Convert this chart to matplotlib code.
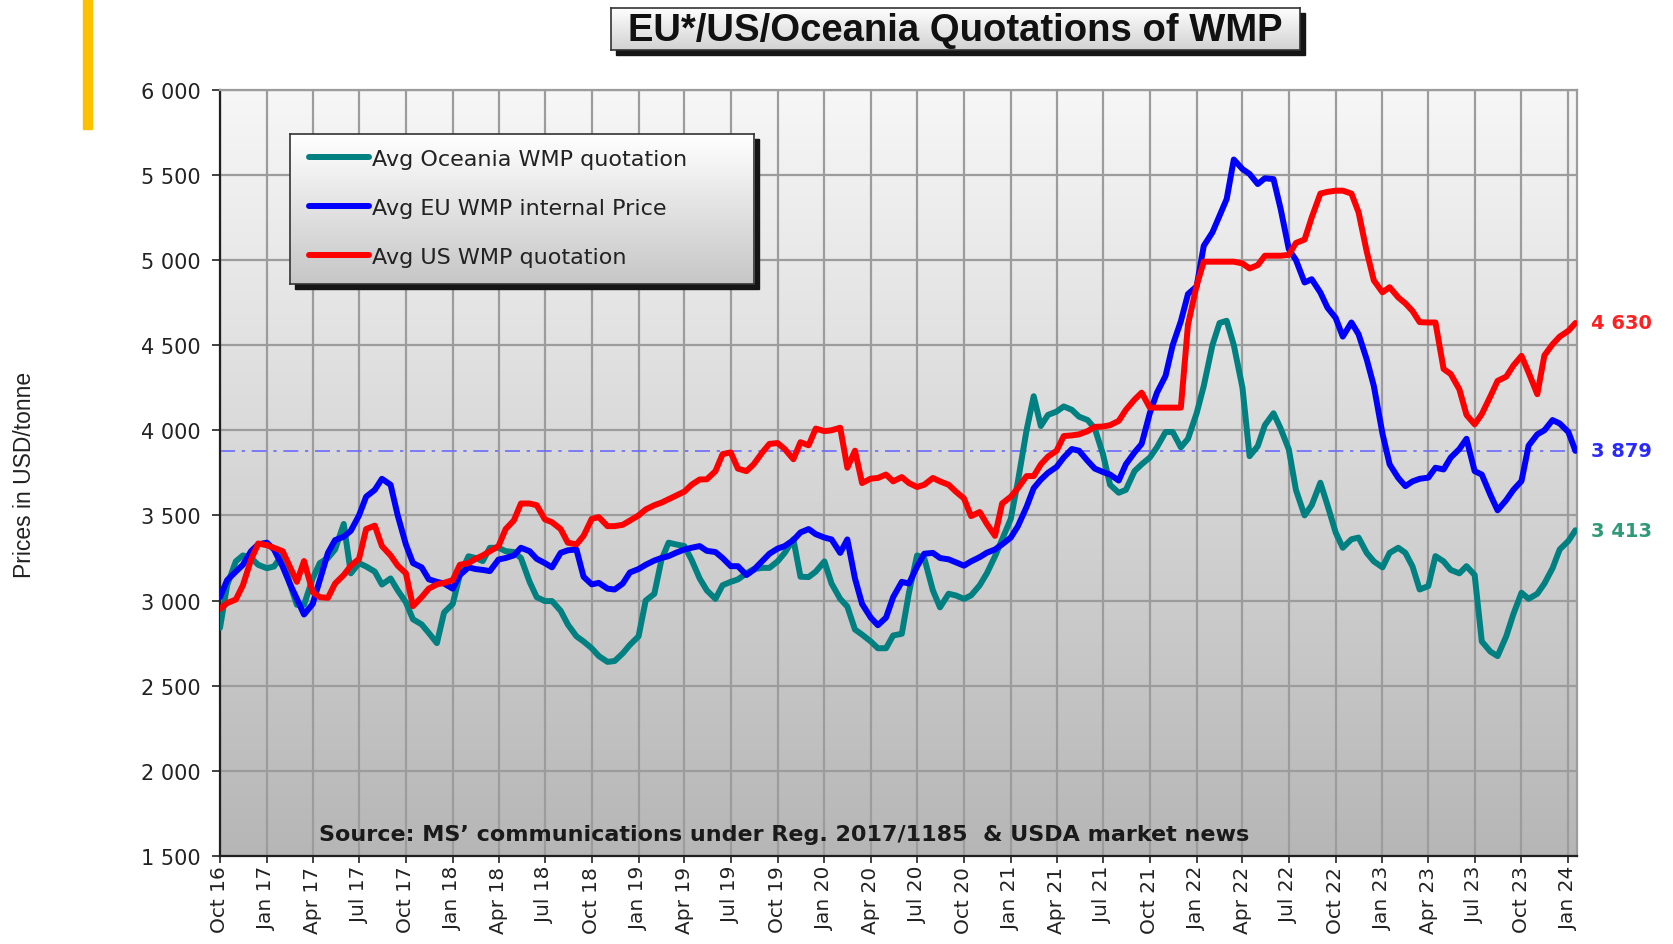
import matplotlib
matplotlib.use("Agg")
import matplotlib.pyplot as plt
import matplotlib.dates as mdates
import numpy as np
import pandas as pd
from matplotlib.colors import LinearSegmentedColormap
from matplotlib.patches import Rectangle
from matplotlib.ticker import FuncFormatter, MultipleLocator

W, H = 1673, 945

# semi-monthly readings (1st and 15th), Oct 2016 - mid Jan 2024, USD/tonne
oceania = [
    2840, 3090, 3230, 3265, 3250, 3210, 3190, 3200, 3270, 3100, 2975, 2975, 3130, 3220, 3250, 3300,
    3450, 3160, 3220, 3200, 3170, 3094, 3130, 3060, 2990, 2890, 2860, 2810, 2750, 2930, 2980, 3150,
    3260, 3250, 3232, 3310, 3310, 3290, 3285, 3250, 3110, 3020, 2997, 2997, 2940, 2860, 2790, 2760,
    2720, 2674, 2640, 2645, 2690, 2740, 2790, 3000, 3040, 3240, 3340, 3330, 3320, 3240, 3130, 3060,
    3010, 3090, 3110, 3124, 3160, 3185, 3192, 3192, 3230, 3280, 3360, 3140, 3138, 3170, 3230, 3100,
    3010, 2965, 2830, 2800, 2760, 2720, 2720, 2795, 2805, 3046, 3265, 3250, 3060, 2960,
    3040, 3030, 3010, 3030, 3090, 3160, 3260, 3360, 3480, 3700, 4000, 4200, 4025, 4090, 4110, 4140,
    4120, 4080, 4060, 4010, 3860, 3680, 3633, 3650, 3760, 3800, 3840, 3900, 3990, 3990, 3900,
    3950, 4100, 4260, 4500, 4630, 4643, 4500, 4250, 3848, 3907, 4030, 4100, 4010, 3888, 3650, 3500,
    3560, 3692, 3560, 3400, 3310, 3360, 3370, 3280, 3230, 3195, 3280, 3310, 3280, 3200, 3065, 3085,
    3261, 3230, 3180, 3160, 3202, 3150, 2760, 2700, 2674, 2790, 2920, 3046, 3010, 3040, 3100, 3190,
    3300, 3350, 3413,
]
eu = [
    3020, 3120, 3170, 3210, 3290, 3330, 3340, 3300, 3200, 3100, 3010, 2918, 2980, 3120, 3280, 3355,
    3375, 3410, 3500, 3610, 3650, 3715, 3680, 3500, 3330, 3220, 3195, 3125, 3110, 3100, 3070, 3150,
    3195, 3185, 3180, 3173, 3241, 3250, 3265, 3310, 3290, 3245, 3220, 3195, 3280, 3295, 3300, 3140,
    3095, 3104, 3070, 3065, 3100, 3165, 3185, 3210, 3235, 3250, 3261, 3280, 3300, 3310, 3320, 3292,
    3285, 3250, 3202, 3202, 3150, 3180, 3232, 3275, 3305, 3320, 3355, 3400, 3420, 3390, 3370, 3359,
    3280, 3359, 3130, 2980, 2900, 2855, 2900, 3020, 3110, 3100, 3200, 3275, 3280, 3250,
    3242, 3225, 3205, 3230, 3255, 3281, 3300, 3330, 3370, 3437, 3550, 3660, 3710, 3750, 3785, 3840,
    3890, 3880, 3820, 3775, 3755, 3740, 3705, 3800, 3870, 3920, 4100, 4220, 4320, 4500, 4640,
    4800, 4845, 5083, 5162, 5260, 5358, 5590, 5534, 5505, 5446, 5480, 5475, 5300, 5064, 5000, 4868,
    4887, 4809, 4720, 4660, 4550, 4633, 4564, 4417, 4260, 3980, 3800, 3720, 3672, 3700, 3715, 3722,
    3780, 3770, 3840, 3890, 3950, 3760, 3740, 3620, 3530, 3590, 3650, 3702, 3910, 3976, 4000, 4060,
    4040, 3990, 3879,
]
us = [
    2950, 2985, 3006, 3090, 3240, 3335, 3325, 3310, 3290, 3200, 3110, 3232, 3050, 3020, 3016, 3100,
    3150, 3205, 3245, 3420, 3440, 3320, 3265, 3205, 3160, 2967, 3020, 3070, 3095, 3104, 3120, 3210,
    3220, 3245, 3265, 3290, 3320, 3420, 3470, 3570, 3570, 3560, 3477, 3460, 3420, 3340, 3330, 3380,
    3480, 3490, 3437, 3437, 3445, 3470, 3500, 3535, 3560, 3575, 3595, 3615, 3640, 3680, 3711, 3712,
    3760, 3860, 3870, 3775, 3760, 3800, 3870, 3920, 3925, 3890, 3830, 3930, 3912, 4010, 3995, 4000,
    4015, 3780, 3880, 3690, 3716, 3720, 3740, 3700, 3725, 3690, 3667, 3680, 3720, 3700,
    3680, 3640, 3600, 3496, 3520, 3450, 3380, 3570, 3610, 3660, 3731, 3731, 3800, 3845, 3880, 3966,
    3970, 3976, 3995, 4020, 4022, 4030, 4055, 4120, 4180, 4221, 4133, 4133, 4133, 4133, 4133,
    4620, 4850, 4990, 4990, 4990, 4990, 4990, 4980, 4950, 4970, 5025, 5025, 5025, 5030, 5100, 5120,
    5250, 5390, 5400, 5407, 5407, 5390, 5280, 5050, 4880, 4810, 4840, 4780, 4745, 4700, 4635, 4633,
    4633, 4360, 4330, 4240, 4090, 4035, 4095, 4200, 4290, 4315, 4380, 4437, 4339, 4212, 4440, 4505,
    4550, 4584, 4630,
]
dates = pd.date_range("2016-10-01", periods=len(oceania), freq="SMS")

series_names = ["Avg Oceania WMP quotation", "Avg EU WMP internal Price", "Avg US WMP quotation"]
series_colors = ["#008080", "#0000ff", "#ff0000"]
label_colors = ["#2e9a78", "#2a2aff", "#ff2020"]

title = "EU*/US/Oceania Quotations of WMP"
source = "Source: MS\u2019 communications under Reg. 2017/1185  & USDA market news"


def fig_rect(x0, y0, x1, y1):
    return [x0 / W, 1 - y1 / H, (x1 - x0) / W, (y1 - y0) / H]


def gradient_box(fig, x0, y0, x1, y1, top, bottom, zorder):
    shadow = Rectangle((x0 / W + 5 / W, 1 - y1 / H - 5 / H), (x1 - x0) / W, (y1 - y0) / H,
                       transform=fig.transFigure, color="#151515", zorder=zorder - 0.5)
    fig.add_artist(shadow)
    bax = fig.add_axes(fig_rect(x0, y0, x1, y1), zorder=zorder)
    cmap = LinearSegmentedColormap.from_list("box", [top, bottom])
    bax.imshow(np.linspace(0, 1, 256)[:, None], cmap=cmap, aspect="auto", extent=(0, 1, 0, 1))
    bax.set_xticks([])
    bax.set_yticks([])
    for sp in bax.spines.values():
        sp.set_color("#333333")
        sp.set_linewidth(1.2)
    return bax


fig = plt.figure(figsize=(W / 100, H / 100), dpi=100)
ax = fig.add_axes(fig_rect(220, 90.7, 1577, 857))

# plot area gradient
bg = LinearSegmentedColormap.from_list("bg", ["#f7f7f7", "#b6b6b6"])
ax.imshow(np.linspace(0, 1, 256)[:, None], cmap=bg, aspect="auto", extent=(0, 1, 0, 1),
          transform=ax.transAxes, zorder=0)

lines = []
for vals, name, col in zip([oceania, eu, us], series_names, series_colors):
    (ln,) = ax.plot(dates, vals, color=col, lw=4.3, label=name, solid_capstyle="round",
                    solid_joinstyle="round", zorder=3)
    lines.append(ln)

ax.axhline(eu[-1], color="#6a6aff", lw=1.2, ls=(0, (9, 4, 2, 4)), zorder=2)

ax.set_xlim(pd.Timestamp("2016-10-01"), pd.Timestamp("2024-01-18"))
ax.set_ylim(1500, 6000)
ax.yaxis.set_major_locator(MultipleLocator(500))
ax.yaxis.set_major_formatter(FuncFormatter(lambda v, p: f"{int(v):,}".replace(",", " ")))
ax.xaxis.set_major_locator(mdates.MonthLocator(bymonth=[1, 4, 7, 10]))
ax.xaxis.set_major_formatter(mdates.DateFormatter("%b %y"))

ax.set_axisbelow(True)
ax.grid(True, color="#9c9c9c", lw=1.6)
for side in ["left", "bottom"]:
    ax.spines[side].set_color("#202020")
    ax.spines[side].set_linewidth(1.6)
for side in ["top", "right"]:
    ax.spines[side].set_color("#9c9c9c")
    ax.spines[side].set_linewidth(1.6)

ax.tick_params(axis="x", direction="out", length=5, width=1.2, pad=2, labelsize=14.5,
               labelrotation=90, colors="#222222")
ax.tick_params(axis="y", direction="out", length=6, width=1.2, pad=8, labelsize=15,
               colors="#222222")

# last values on the right
for vals, col in zip([us, eu, oceania], [label_colors[2], label_colors[1], label_colors[0]]):
    ax.annotate(f"{vals[-1]:,}".replace(",", " "), xy=(1, vals[-1]),
                xycoords=("axes fraction", "data"), xytext=(10, 0), textcoords="offset points",
                ha="left", va="center", fontsize=14, fontweight="bold", color=col,
                annotation_clip=False)

ax.text(0.4156, 0.029, source, transform=ax.transAxes, ha="center", va="center",
        fontsize=16, fontweight="bold", color="#1a1a1a", zorder=4)

fig.text(0.0145, 0.497, "Prices in USD/tonne", rotation=90, ha="center", va="center",
         fontsize=16.5, family="Liberation Sans", color="#222222")

# title box
tax = gradient_box(fig, 611, 8.5, 1300, 51, "#ffffff", "#d2d2d2", zorder=2)
tax.text(0.5, 0.47, title, ha="center", va="center", fontsize=27.5, fontweight="bold",
         family="Liberation Sans", color="#111111", transform=tax.transAxes)

# legend box
gradient_box(fig, 290, 135, 754, 285, "#ffffff", "#c6c6c6", zorder=2)
fig.legend(handles=lines, labels=series_names, loc="center left",
           bbox_to_anchor=(309 / W, 1 - 209 / H), frameon=False, fontsize=16,
           borderpad=0, borderaxespad=0, handlelength=2.7, handletextpad=0.15,
           labelspacing=1.3, labelcolor="#222222")

# orange accent bar
fig.add_artist(Rectangle((83 / W, 1 - 130 / H), 9 / W, 130 / H, transform=fig.transFigure,
                         color="#ffc000", zorder=1))

fig.savefig("out.png", dpi=100)
